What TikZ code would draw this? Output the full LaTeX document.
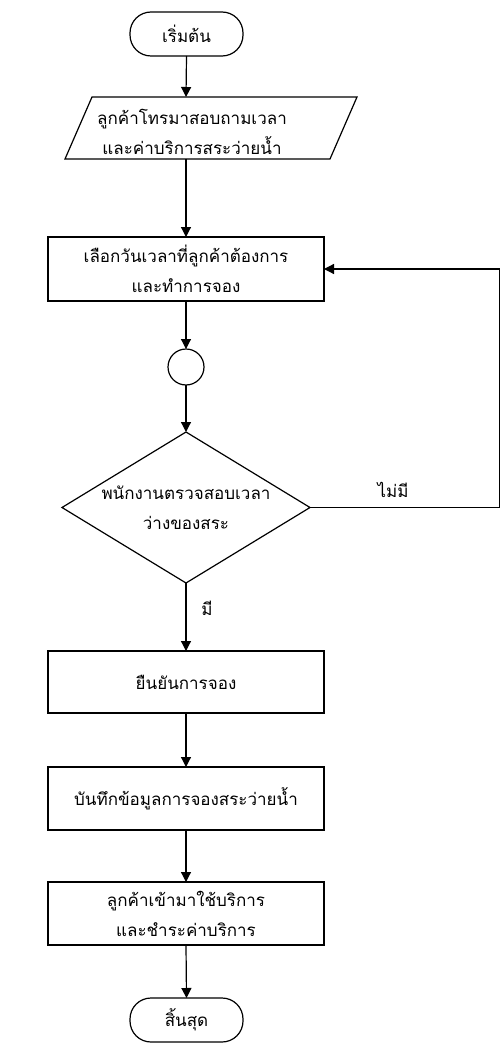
\documentclass[tikz,border=0pt]{standalone}
\usepackage{fontspec}
\newfontfamily\thaifont[Script=Thai]{Loma}
\usetikzlibrary{arrows.meta,calc}
\begin{document}
\begin{tikzpicture}[x=1pt,y=-1pt,
  every node/.style={inner sep=0pt,outer sep=0pt},
  txt/.style={font={\thaifont\fontsize{17}{30}\selectfont},align=center,text=black},
  box/.style={draw,line width=1.2pt,minimum width=276pt,minimum height=63pt,txt},
  term/.style={draw,line width=1.2pt,rounded corners=21pt,minimum width=113pt,minimum height=44pt,txt},
  shp/.style={draw,line width=1.2pt},
  arr/.style={line width=1.2pt,-{Triangle[length=10pt,width=10pt]}},
  ln/.style={line width=1.2pt}]
\useasboundingbox (0,0) rectangle (502,1043);
% start
\node[term] (start) at (186.5,34) {เริ่มต้น};
% parallelogram
\draw[shp] (92,97) -- (357,97) -- (330,159) -- (65,159) -- cycle;
\node[minimum height=62pt] (para) at (186,128) {};
\node[txt] (paratxt) at (192,132) {ลูกค้าโทรมาสอบถามเวลา\\และค่าบริการสระว่ายน้ำ};
% box1
\node[box,minimum height=64pt] (choose) at (186,269) {เลือกวันเวลาที่ลูกค้าต้องการ\\และทำการจอง};
% circle
\node[draw,circle,line width=1.2pt,minimum size=36pt] (conn) at (186,367) {};
% diamond
\coordinate (dtop) at (186,432);
\coordinate (dright) at (310,507.5);
\coordinate (dbot) at (186,583);
\coordinate (dleft) at (62,507.5);
\draw[shp] (dtop) -- (dright) -- (dbot) -- (dleft) -- cycle;
\node[txt] (check) at (186,508) {พนักงานตรวจสอบเวลา\\ว่างของสระ};
% boxes
\node[box,minimum height=62pt] (confirm) at (186,682) {ยืนยันการจอง};
\node[box] (record) at (186,798.5) {บันทึกข้อมูลการจองสระว่ายน้ำ};
\node[box] (use) at (186,913.5) {ลูกค้าเข้ามาใช้บริการ\\และชำระค่าบริการ};
% end
\node[term] (stop) at (186.5,1020) {สิ้นสุด};
% connectors
\draw[arr] (start.south) -- (para.north);
\draw[arr] (para.south) -- (choose.north);
\draw[arr] (choose.south) -- (conn.north);
\draw[arr] (conn.south) -- (dtop);
\draw[arr] (dbot) -- (confirm.north);
\draw[arr] (confirm.south) -- (record.north);
\draw[arr] (record.south) -- (use.north);
\draw[arr] (use.south) -- (stop.north);
\coordinate (rc1) at (499.5,507.5);
\coordinate (rc2) at (499.5,269);
\draw[ln] (dright) -- (rc1) -- (rc2);
\draw[arr] (rc2) -- (choose.east);
% labels
\node[txt] (lno) at (393,490) {ไม่มี};
\node[txt] (lyes) at (207,608) {มี};
\end{tikzpicture}
\end{document}
